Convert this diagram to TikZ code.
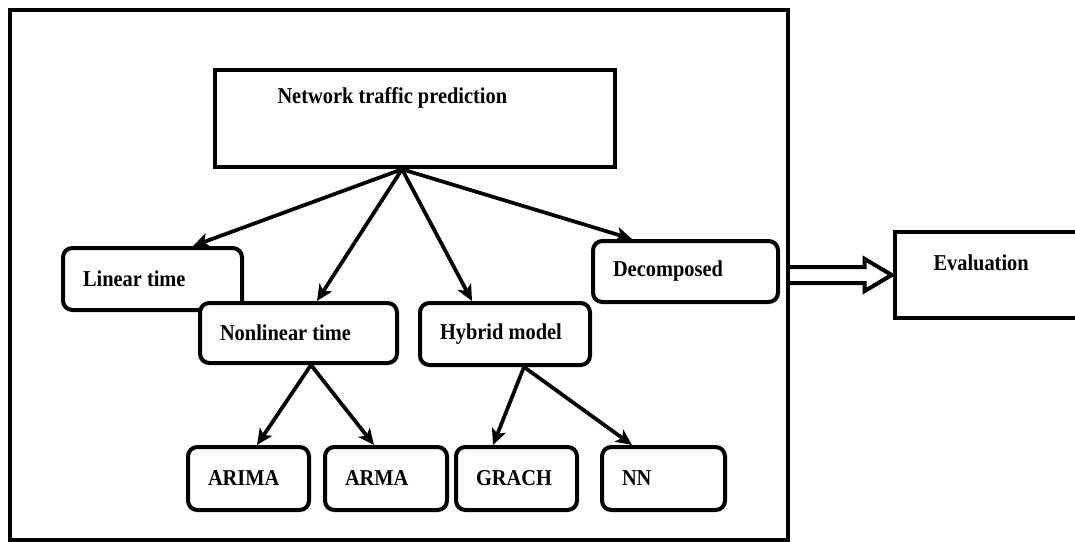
\documentclass[tikz,border=0pt]{standalone}
\usepackage{fontspec}
\setmainfont{Liberation Serif}[FakeStretch=0.9]
\usetikzlibrary{arrows.meta,calc}

\newcommand{\labfont}{\fontsize{17}{19}\selectfont\bfseries}
\tikzset{every picture/.style={line width=0.75pt}}
\tikzset{
  plainbox/.style={draw, line width=3.4pt, inner sep=0pt},
  modelbox/.style={draw, fill=white, line width=3pt, rounded corners=7pt,
    inner xsep=15pt, inner ysep=0pt, font=\labfont,
    execute at begin node={\spaceskip=0pt\xspaceskip=0pt\relax}},
  txt/.style={inner sep=0pt, anchor=west, font=\labfont},
  fanarrow/.style={line width=2.8pt, -{Stealth[length=12pt,width=11pt,inset=3pt]}},
  blockarrow/.style={draw, fill=white, line width=3pt, line join=miter}
}

\begin{document}
\begin{tikzpicture}[x=0.75pt,y=0.75pt,yscale=-1,xscale=1]
\useasboundingbox (0,0) rectangle (1075,542);

%Shape: Rectangle (outer frame)
\node[plainbox, line width=3pt, minimum width=583.5pt, minimum height=397.5pt] (frame) at (399,275) {};
%Shape: Rectangle
\node[plainbox, minimum width=300pt, minimum height=72.75pt] (predict) at (415,118.5) {};
%Shape: Rectangle
\node[plainbox, minimum width=138.75pt, minimum height=64.5pt] (eval) at (987.5,275) {};

% Text Node
\node[txt] (predtext) at (277,98) {Network traffic prediction};
% Text Node
\node[txt] (evaltext) at (933,263) {Evaluation};

%Shape: Rounded Rectangle
\node[modelbox, text width=104.25pt, minimum height=46.5pt] (lin) at (152.5,279) {Linear time};
\node[modelbox, text width=117.75pt, minimum height=45pt] (nonlin) at (298.5,333) {Nonlinear time};
\node[modelbox, text width=97.5pt, minimum height=46.5pt] (hybrid) at (505,334) {Hybrid model};
\node[modelbox, text width=108.75pt, minimum height=45.75pt] (decomp) at (685.5,271.5) {Decomposed};
%Shape: Rounded Rectangle
\node[modelbox, text width=60.75pt, minimum height=47.25pt] (arima) at (248.5,478.5) {ARIMA};
\node[modelbox, text width=61.5pt, minimum height=47.25pt] (arma) at (386,478.5) {ARMA};
\node[modelbox, text width=60.75pt, minimum height=47.25pt] (grach) at (516.5,478.5) {GRACH};
\node[modelbox, text width=62.25pt, minimum height=47.25pt] (nn) at (663.5,478.5) {NN};

%Straight Lines
\coordinate (fan) at ($(predict.south)+(-13,0)$);
\draw[fanarrow] (fan) -- ($(lin.north)+(40.5,0)$);
\draw[fanarrow] (fan) -- ($(nonlin.north)+(18.5,0)$);
\draw[fanarrow] (fan) -- ($(hybrid.north)+(-33,0)$);
\draw[fanarrow] (fan) -- ($(decomp.north)+(-53.5,0)$);

%Straight Lines
\coordinate (nonlinfoot) at ($(nonlin.south)+(12.5,0)$);
\draw[fanarrow] (nonlinfoot) -- ($(arima.north)+(8.5,0)$);
\draw[fanarrow] (nonlinfoot) -- ($(arma.north)+(-12,0)$);
\coordinate (hybridfoot) at ($(hybrid.south)+(19,0)$);
\draw[fanarrow] (hybridfoot) -- ($(grach.north)+(-23.5,0)$);
\draw[fanarrow] (hybridfoot) -- ($(nn.north)+(-31.5,0)$);

%Shape: Block Arrow
\draw[blockarrow] ($(frame.east)+(0,-8)$) -- ($(eval.west)+(-28,-8)$)
  -- ($(eval.west)+(-28,-16)$) -- ($(eval.west)+(-1,0)$) -- ($(eval.west)+(-28,16)$)
  -- ($(eval.west)+(-28,8)$) -- ($(frame.east)+(0,8)$);

\end{tikzpicture}
\end{document}
